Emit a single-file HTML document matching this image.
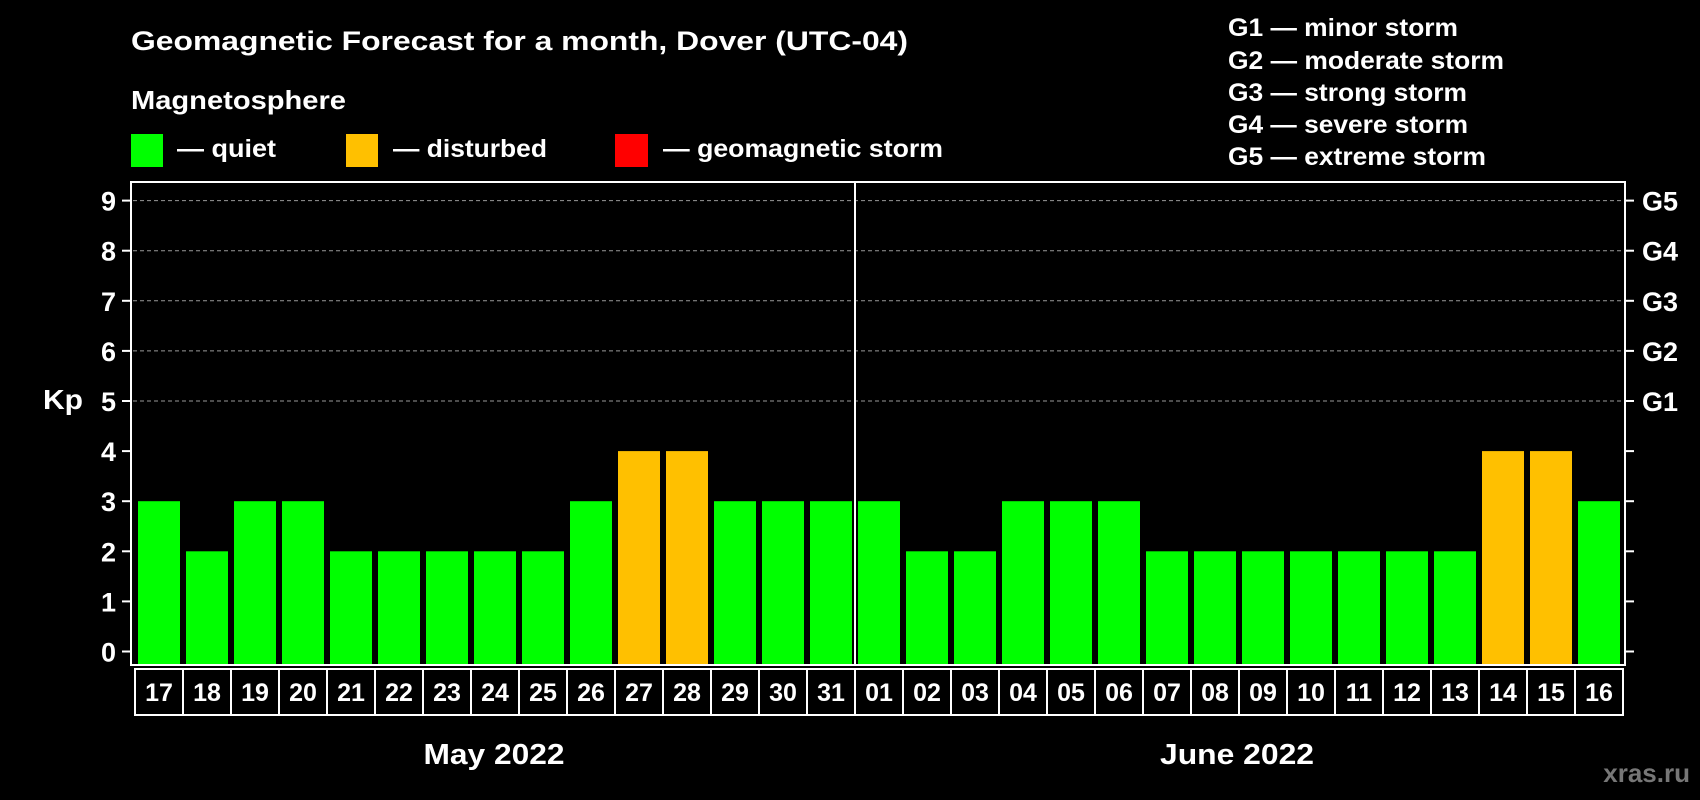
<!DOCTYPE html>
<html><head><meta charset="utf-8"><style>
html,body{margin:0;padding:0;background:#000;}
svg{display:block;font-family:"Liberation Sans",Arial,sans-serif;font-weight:bold;}
</style></head><body>
<svg id="chart" width="1700" height="800" viewBox="0 0 1700 800">
<rect width="1700" height="800" fill="#000"/>
<text x="131" y="50" fill="#fff" font-size="27" textLength="777" lengthAdjust="spacingAndGlyphs">Geomagnetic Forecast for a month, Dover (UTC-04)</text>
<text x="131" y="109" fill="#fff" font-size="26" textLength="215" lengthAdjust="spacingAndGlyphs">Magnetosphere</text>
<g><rect x="131" y="134" width="32" height="33" fill="#00ff00"/><text x="177" y="157" fill="#fff" font-size="25" textLength="99" lengthAdjust="spacingAndGlyphs">— quiet</text></g>
<g><rect x="346" y="134" width="32" height="33" fill="#ffc000"/><text x="393" y="157" fill="#fff" font-size="25" textLength="154" lengthAdjust="spacingAndGlyphs">— disturbed</text></g>
<g><rect x="615" y="134" width="33" height="33" fill="#ff0000"/><text x="663" y="157" fill="#fff" font-size="25" textLength="280" lengthAdjust="spacingAndGlyphs">— geomagnetic storm</text></g>
<g fill="#fff" font-size="25">
<text x="1228" y="36" textLength="230" lengthAdjust="spacingAndGlyphs">G1 — minor storm</text>
<text x="1228" y="69" textLength="276" lengthAdjust="spacingAndGlyphs">G2 — moderate storm</text>
<text x="1228" y="101" textLength="239" lengthAdjust="spacingAndGlyphs">G3 — strong storm</text>
<text x="1228" y="133" textLength="240" lengthAdjust="spacingAndGlyphs">G4 — severe storm</text>
<text x="1228" y="165" textLength="258" lengthAdjust="spacingAndGlyphs">G5 — extreme storm</text>
</g>
<g id="grid"></g>
<g id="bars"></g>
<rect x="131" y="182" width="1494" height="483" fill="none" stroke="#fff" stroke-width="2"/>
<line x1="855" y1="182" x2="855" y2="665" stroke="#fff" stroke-width="2"/>
<g id="axes"></g>
<g id="xlabels"></g>
<text x="43" y="409" fill="#fff" font-size="28" textLength="40" lengthAdjust="spacingAndGlyphs">Kp</text>
<text x="494" y="764" fill="#fff" font-size="29" text-anchor="middle" textLength="141" lengthAdjust="spacingAndGlyphs">May 2022</text>
<text x="1237" y="764" fill="#fff" font-size="29" text-anchor="middle" textLength="154" lengthAdjust="spacingAndGlyphs">June 2022</text>
<text x="1690" y="782" fill="#777" font-size="26" text-anchor="end">xras.ru</text>
</svg>
<script>
const days = ["17","18","19","20","21","22","23","24","25","26","27","28","29","30","31","01","02","03","04","05","06","07","08","09","10","11","12","13","14","15","16"];
const kpValues = [3,2,3,3,2,2,2,2,2,3,4,4,3,3,3,3,2,2,3,3,3,2,2,2,2,2,2,2,4,4,3];
const yTicks = [0,1,2,3,4,5,6,7,8,9];
const gLabels = ["","","","","","G1","G2","G3","G4","G5"];
const NS="http://www.w3.org/2000/svg";
const y0=651.5, unit=50.1, x0=138, pitch=48, bw=42, plotBottom=665;
const yScale=v=>y0-v*unit;
const xScale=i=>x0+i*pitch;
function mk(t,a,p){const e=document.createElementNS(NS,t);for(const k in a)e.setAttribute(k,a[k]);p.appendChild(e);return e;}
const grid=document.getElementById('grid'),axes=document.getElementById('axes'),bars=document.getElementById('bars'),xl=document.getElementById('xlabels');
yTicks.forEach((v,i)=>{
  const y=yScale(v);
  if(v>=5){const g=mk('line',{x1:133,x2:1623,y1:y,y2:y,stroke:'#999','stroke-width':1,'stroke-dasharray':'4,3'},grid);
    
    }
  const tl=mk('line',{x1:122,x2:131,y1:y,y2:y,stroke:'#fff','stroke-width':2},axes);
  
  
  const tr=mk('line',{x1:1625,x2:1634,y1:y,y2:y,stroke:'#fff','stroke-width':2},axes);
  
  
  const t=mk('text',{x:116,y:y+10,fill:'#fff','font-size':27,'text-anchor':'end'},axes);t.textContent=v;
  
  
  if(gLabels[i]){const g=mk('text',{x:1642,y:y+10,fill:'#fff','font-size':27},axes);g.textContent=gLabels[i];
    
    }
});
kpValues.forEach((v,i)=>{
  const col=v>=5?'#ff0000':(v>=4?'#ffc000':'#00ff00');
  const r=mk('rect',{x:xScale(i),y:yScale(v),width:bw,height:plotBottom-yScale(v),fill:col},bars);
  
  
  const b=mk('rect',{x:xScale(i)-3,y:669,width:48,height:46,fill:'none',stroke:'#fff','stroke-width':2},xl);
  
  
  const t=mk('text',{x:xScale(i)+bw/2,y:701,fill:'#fff','font-size':25,'text-anchor':'middle'},xl);t.textContent=days[i];
  
  
});
</script>
</body></html>
